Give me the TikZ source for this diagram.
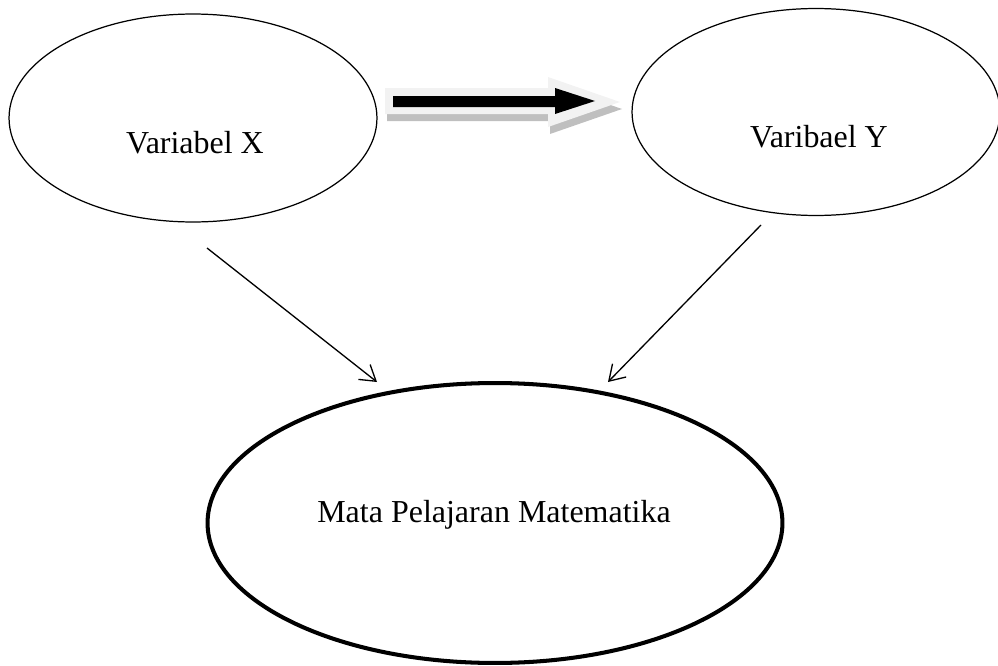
\documentclass[tikz,border=0pt]{standalone}
\usepackage{fontspec}
\setmainfont{Liberation Serif}
\usetikzlibrary{shapes.geometric, arrows.meta}

\begin{document}
\begin{tikzpicture}[
    x=0.02cm, y=-0.02cm,
    >={Straight Barb[length=3mm, width=3.8mm]},
    oval/.style={draw, ellipse, inner sep=0pt, line width=0.7pt},
    bigoval/.style={oval, line width=2.3pt},
    txt/.style={anchor=base, inner sep=0pt, font=\fontsize{18.2}{22}\selectfont},
    link/.style={->, line width=0.75pt}
]
    \useasboundingbox (0,0) rectangle (998,666);

    % Node placement
    \node (varx) [oval, minimum width=7.36cm, minimum height=4.16cm] at (193,118) {};
    \node (vary) [oval, minimum width=7.36cm, minimum height=4.14cm] at (816,112) {};
    \node (mapel) [bigoval, minimum width=11.5cm, minimum height=5.6cm] at (495,523) {};

    \node (varxtxt) [txt] at (195,153) {Variabel X};
    \node (varytxt) [txt] at (819,147) {Varibael Y};
    \node (mapeltxt) [txt] at (494,522) {Mata Pelajaran Matematika};

    % Fat arrow X -> Y
    \fill[black!25, shift={(2,7)}] (385,88) -- (548,88) -- (548,77) -- (620,102)
        -- (548,127) -- (548,114) -- (385,114) -- cycle;
    \fill[black!5] (385,88) -- (548,88) -- (548,77) -- (620,102)
        -- (548,127) -- (548,114) -- (385,114) -- cycle;
    \fill[black] (393,96) -- (555,96) -- (555,88) -- (595,101)
        -- (555,114) -- (555,107) -- (393,107) -- cycle;

    % Arrows
    \coordinate (xfrom) at (207,248);
    \coordinate (xto) at (377,382);
    \coordinate (yfrom) at (761,225);
    \coordinate (yto) at (608,382);
    \draw[link] (xfrom) -- (xto);
    \draw[link] (yfrom) -- (yto);

\end{tikzpicture}
\end{document}
